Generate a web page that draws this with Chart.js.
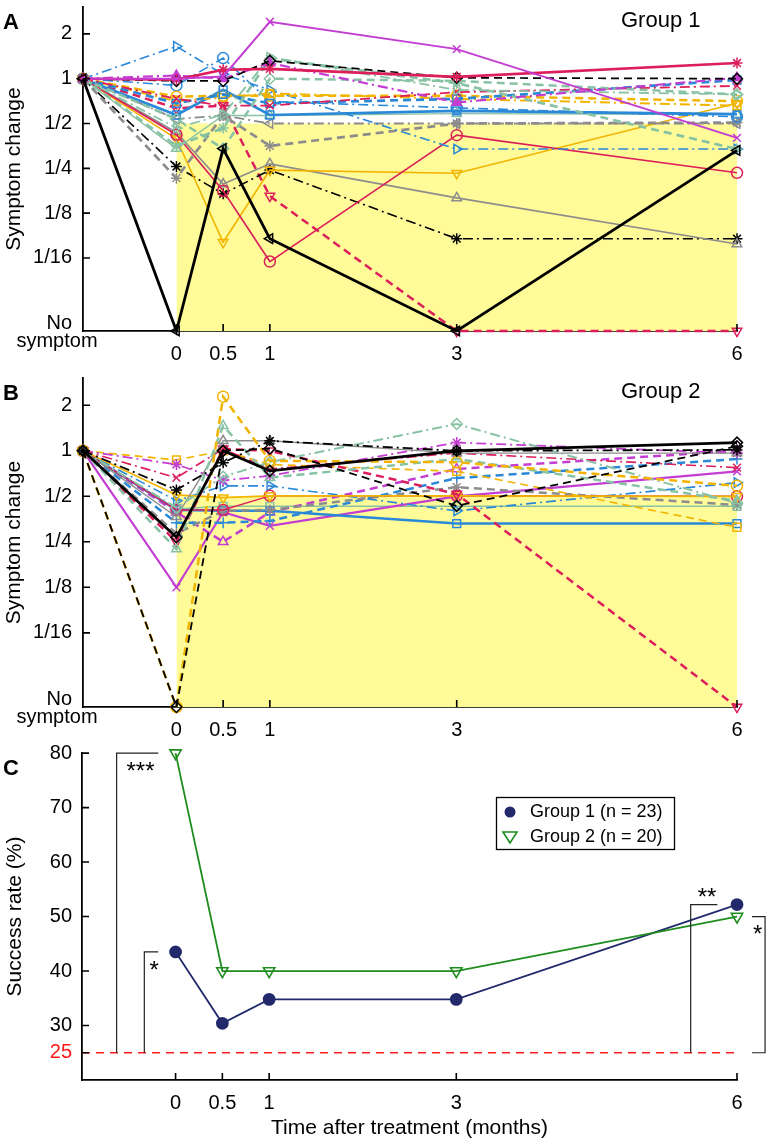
<!DOCTYPE html>
<html>
<head>
<meta charset="utf-8">
<script src="https://cdn.jsdelivr.net/npm/chart.js@4.4.1/dist/chart.umd.min.js"></script>
<style>
  html, body { margin: 0; padding: 0; background: #fff; }
  #page { position: relative; width: 770px; height: 1145px; overflow: hidden; }
  canvas { position: absolute; left: 0; }
</style>
</head>
<body>
<div id="page">
  <canvas id="panelA" width="770" height="370" style="top:0px"></canvas>
  <canvas id="panelB" width="770" height="375" style="top:370px"></canvas>
  <canvas id="panelC" width="770" height="400" style="top:745px"></canvas>
</div>
<script>
/* ===================== DATA ===================== */
// symptom change is kept as log2(ratio): 0 = unchanged, -1 = halved ...
const NO = -5.63;                              // "No symptom" (axis floor)
const visits = [-1, 0, 0.5, 1, 3, 6];          // -1 = baseline (before treatment)
const timeTicks = [0, 0.5, 1, 3, 6];
const changeTicks = [1, 0, -1, -2, -3, -4];
const changeLabels = ["2", "1", "1/2", "1/4", "1/8", "1/16"];
const successBound = -1;                       // symptom halved

// Group 1 patients
const g1p01 = [0, NO, -1.56, -3.57, NO, -1.6];
const g1p02 = [0, 0, 0.05, 1.27, 0.66, -1.32];
const g1p03 = [0, -0.02, 0.2, 0.22, 0.04, 0.35];
const g1p04 = [0, -0.05, -0.05, 0.4, 0.02, 0];
const g1p05 = [0, 0.07, 0, 0.35, -0.53, 0.02];
const g1p06 = [0, -0.9, -1.56, 0, -0.05, -0.35];
const g1p07 = [0, -1.1, -0.8, 0.48, -0.25, -0.35];
const g1p08 = [0, -1.5, -1.1, 0.45, -0.1, -1.57];
const g1p09 = [0, -0.45, -0.6, -0.6, -0.3, -0.16];
const g1p10 = [0, -0.55, -0.35, -0.55, -0.45, -0.03];
const g1p11 = [0, -0.4, -0.38, -0.38, -0.38, -0.5];
const g1p12 = [0, -0.5, -0.42, -0.33, -0.45, -0.6];
const g1p13 = [0, -0.81, -0.25, -0.81, -0.72, -0.79];
const g1p14 = [0, -0.15, 0.46, -0.51, -0.65, -0.85];
const g1p15 = [0, 0.72, 0.1, -0.25, -1.57, -1.57];
const g1p16 = [0, -0.9, -0.82, -1.0, -1.0, -1.0];
const g1p17 = [0, -2.22, -0.82, -1.5, -1.0, -0.98];
const g1p18 = [0, -1.56, -0.82, -0.82, -0.78, -0.8];
const g1p19 = [0, -1.25, -2.5, -4.08, -1.26, -2.1];
const g1p20 = [0, -1.34, -3.65, -2.04, -2.11, -0.55];
const g1p21 = [0, -1.2, -2.35, -1.9, -2.66, -3.69];
const g1p22 = [0, -1.96, -2.57, -2.04, -3.57, -3.57];
const g1p23 = [0, -0.66, -0.6, -2.62, NO, NO];

// Group 2 patients
const g2p01 = [0, -1.9, 0, -0.44, 0, 0.18];
const g2p02 = [0, -0.86, -0.26, 0.22, 0, 0.02];
const g2p03 = [0, NO, 0, 0.05, -1.21, 0.1];
const g2p04 = [0, NO, 1.19, -0.22, -0.25, -0.77];
const g2p05 = [0, -2.16, 0.55, -0.59, -0.18, -1.1];
const g2p06 = [0, -1.25, -0.57, -0.25, 0.59, -1.15];
const g2p07 = [0, -1.45, 0.22, 0.22, -0.05, -0.05];
const g2p08 = [0, -2.0, 0.04, 0, -0.95, NO];
const g2p09 = [0, -0.59, 0.04, -0.4, -0.05, -0.37];
const g2p10 = [0, -0.3, -0.65, -0.55, 0.18, -0.05];
const g2p11 = [0, -0.2, 0, -0.3, -0.45, -1.68];
const g2p12 = [0, -0.97, -1.03, -0.99, -0.99, -1.0];
const g2p13 = [0, -1.3, -1.3, -0.99, -0.99, -1.0];
const g2p14 = [0, -1.82, -1.32, -1.3, -0.8, -1.19];
const g2p15 = [0, -1.3, -1.32, -1.32, -1.6, -1.6];
const g2p16 = [0, -1.58, -1.58, -1.54, -0.6, -0.18];
const g2p17 = [0, -1.1, -0.77, -0.77, -1.32, -0.7];
const g2p18 = [0, -1.35, -2.0, -1.35, -0.4, 0];
const g2p19 = [0, -3.0, -1.35, -1.65, -1.0, -0.45];
const g2p20 = [0, -1.28, -1.22, -1.22, -1.22, -1.22];

// panel C, success rate (%)
const months = [0, 0.5, 1, 3, 6];
const rateGroup1 = [43.5, 30.4, 34.8, 34.8, 52.2];
const rateGroup2 = [80, 40, 40, 40, 50];
const chanceRate = 25;
const rateTicks = [25, 30, 40, 50, 60, 70, 80];

/* ===================== STYLE ===================== */
const FONT = "'Liberation Sans', Arial, Helvetica, sans-serif";
Chart.defaults.font.family = FONT;
Chart.defaults.color = "#000";

const K = "#000000", MG = "#c33dd2", CR = "#dc1e5a", BL = "#2a88d8",
      GD = "#f2b400", SG = "#88c2a4", GR = "#8c8c8c";
const SOLID = [], DASH = [8, 5], DADO = [10, 4, 2, 4];
const NAVY = "#222a6c", GREEN = "#1e8c1e", RED = "#ff1a1a";

// [colour, dash, width, marker, rotation, filled]
const g1Styles = [
  [K, SOLID, 2.8, "triangle", -90, false],
  [MG, SOLID, 2.0, "crossRot", 0, false],
  [CR, SOLID, 2.6, "star", 0, true],
  [K, DASH, 1.7, "rectRot", 0, false],
  [MG, DADO, 2.2, "triangle", 0, true],
  [SG, DASH, 2.5, "rectRot", 0, false],
  [SG, DADO, 1.8, "triangle", 90, false],
  [SG, DASH, 2.7, "star", 0, false],
  [CR, DADO, 1.8, "crossRot", 0, false],
  [BL, DASH, 2.7, "rect", 0, false],
  [GD, DASH, 2.5, "circle", 0, false],
  [GD, DADO, 2.0, "rect", 0, false],
  [BL, SOLID, 2.7, "rect", 0, false],
  [BL, DADO, 1.6, "circle", 0, false],
  [BL, DADO, 1.6, "triangle", 90, false],
  [GR, DADO, 1.8, "triangle", -90, false],
  [GR, DASH, 2.7, "star", 0, false],
  [SG, SOLID, 1.4, "triangle", 0, false],
  [CR, SOLID, 1.6, "circle", 0, false],
  [GD, SOLID, 1.6, "triangle", 180, false],
  [GR, SOLID, 1.6, "triangle", 0, false],
  [K, DADO, 1.6, "star", 0, false],
  [CR, DASH, 2.5, "triangle", 180, false]
];

const g2Styles = [
  [K, SOLID, 2.7, "rectRot", 0, false],
  [K, DADO, 1.8, "star", 0, false],
  [K, DASH, 1.8, "rectRot", 0, false],
  [GD, DASH, 2.5, "circle", 0, false],
  [SG, DASH, 2.5, "triangle", 0, false],
  [SG, DADO, 2.0, "rectRot", 0, false],
  [GR, SOLID, 1.4, "triangle", 0, false],
  [CR, DASH, 2.5, "triangle", 180, false],
  [CR, DADO, 1.6, "crossRot", 0, false],
  [MG, DADO, 1.8, "star", 0, false],
  [GD, DASH, 1.6, "rect", 0, false],
  [GD, SOLID, 1.8, "triangle", 180, false],
  [CR, SOLID, 1.4, "circle", 0, false],
  [GR, DASH, 2.5, "star", 0, false],
  [BL, SOLID, 2.5, "rect", 0, false],
  [BL, DASH, 2.5, "cross", 0, false],
  [BL, DADO, 1.6, "triangle", 90, false],
  [MG, DASH, 2.5, "triangle", 0, false],
  [MG, SOLID, 2.2, "crossRot", 0, false],
  [SG, SOLID, 1.4, "rect", 0, false]
];

const group1 = [g1p01, g1p02, g1p03, g1p04, g1p05, g1p06, g1p07, g1p08, g1p09, g1p10, g1p11, g1p12,
                g1p13, g1p14, g1p15, g1p16, g1p17, g1p18, g1p19, g1p20, g1p21, g1p22, g1p23];
const group2 = [g2p01, g2p02, g2p03, g2p04, g2p05, g2p06, g2p07, g2p08, g2p09, g2p10,
                g2p11, g2p12, g2p13, g2p14, g2p15, g2p16, g2p17, g2p18, g2p19, g2p20];

/* ===================== PLUGINS ===================== */
// ticks drawn inward, like the original figure
const innerTicks = {
  id: "innerTicks",
  afterDraw(chart) {
    const { ctx, scales: { x, y } } = chart;
    ctx.save();
    ctx.strokeStyle = "#000";
    ctx.lineWidth = 1.6;
    ctx.beginPath();
    x.ticks.forEach(t => {
      const px = x.getPixelForValue(t.value);
      ctx.moveTo(px, x.top);
      ctx.lineTo(px, x.top - 7);
    });
    y.ticks.forEach(t => {
      const py = y.getPixelForValue(t.value);
      ctx.moveTo(y.right, py);
      ctx.lineTo(y.right + 7, py);
    });
    ctx.stroke();
    ctx.restore();
  }
};

const symptomText = {
  id: "symptomText",
  afterDraw(chart, args, opts) {
    const { ctx, chartArea, scales: { y } } = chart;
    ctx.save();
    ctx.fillStyle = "#000";
    ctx.textAlign = "left";
    ctx.textBaseline = "alphabetic";
    ctx.font = "bold 22px " + FONT;
    ctx.fillText(opts.letter, 3, chartArea.top + 22);
    ctx.font = "22px " + FONT;
    ctx.fillText(opts.title, 621, chartArea.top + 20);
    ctx.font = "20px " + FONT;
    ctx.textBaseline = "middle";
    ctx.textAlign = "right";
    ctx.fillText("No", 72, y.bottom - 8);
    ctx.textAlign = "center";
    ctx.fillText("symptom", 57, y.bottom + 10);
    ctx.restore();
  }
};

const rateText = {
  id: "rateText",
  afterDraw(chart) {
    const { ctx, chartArea, scales: { x, y } } = chart;
    const px = v => x.getPixelForValue(v);
    const py = v => y.getPixelForValue(v);
    ctx.save();
    ctx.fillStyle = "#000";
    ctx.font = "bold 22px " + FONT;
    ctx.textAlign = "left";
    ctx.fillText("C", 3, chartArea.top + 22);

    // significance brackets against chance level
    ctx.strokeStyle = "#222";
    ctx.lineWidth = 1.2;
    const poly = pts => {
      ctx.beginPath();
      pts.forEach(([a, b], i) => i ? ctx.lineTo(px(a), py(b)) : ctx.moveTo(px(a), py(b)));
      ctx.stroke();
    };
    poly([[-0.63, chanceRate], [-0.63, rateGroup2[0]], [-0.185, rateGroup2[0]]]);
    poly([[-0.334, chanceRate], [-0.334, rateGroup1[0]], [-0.185, rateGroup1[0]]]);
    poly([[5.505, chanceRate], [5.505, rateGroup1[4]], [5.79, rateGroup1[4]]]);
    poly([[6.16, rateGroup2[4]], [6.3, rateGroup2[4]], [6.3, chanceRate], [6.16, chanceRate]]);

    ctx.font = "24px " + FONT;
    ctx.textAlign = "center";
    ctx.textBaseline = "middle";
    const stars = (s, a, b) => ctx.fillText(s, px(a), py(b) + 5);
    stars("***", -0.375, 77.4);
    stars("*", -0.23, 40.9);
    stars("**", 5.68, 54.3);
    stars("*", 6.22, 47.4);

    // legend box
    ctx.lineWidth = 1.3;
    ctx.strokeStyle = "#000";
    ctx.strokeRect(496.5, 52.5, 178, 52);
    ctx.fillStyle = NAVY;
    ctx.beginPath();
    ctx.arc(510, 67, 5.5, 0, Math.PI * 2);
    ctx.fill();
    ctx.strokeStyle = GREEN;
    ctx.lineWidth = 1.6;
    ctx.beginPath();
    ctx.moveTo(503, 87);
    ctx.lineTo(517, 87);
    ctx.lineTo(510, 98);
    ctx.closePath();
    ctx.stroke();
    ctx.fillStyle = "#000";
    ctx.font = "18px " + FONT;
    ctx.textAlign = "left";
    ctx.fillText("Group 1 (n = 23)", 530, 67);
    ctx.fillText("Group 2 (n = 20)", 530, 92);
    ctx.restore();
  }
};

/* ===================== BUILDERS ===================== */
function patientSets(rows, styles) {
  return rows.map((vals, i) => {
    const [color, dash, width, marker, rot, filled] = styles[i];
    return {
      data: vals.map((v, j) => ({ x: visits[j], y: v })),
      borderColor: color,
      borderDash: dash,
      borderWidth: width,
      pointStyle: marker,
      pointRotation: rot,
      pointRadius: 5.5,
      pointBorderColor: color,
      pointBorderWidth: 1.5,
      pointBackgroundColor: filled ? color : "rgba(0,0,0,0)",
      fill: false,
      tension: 0,
      clip: false
    };
  });
}

function successZone() {
  return {
    data: [{ x: 0, y: successBound }, { x: 6, y: successBound }],
    fill: "start",
    backgroundColor: "#fffb98",
    borderWidth: 0,
    pointRadius: 0,
    order: 100
  };
}

function axisX(height, extra) {
  return Object.assign({
    type: "linear",
    min: -1,
    max: 6,
    grid: { display: false, drawTicks: false },
    border: { display: true, color: "#000", width: 1.8 },
    afterBuildTicks: s => { s.ticks = timeTicks.map(v => ({ value: v })); },
    ticks: { padding: 11, autoSkip: false, maxRotation: 0, font: { size: 20 }, callback: v => String(v) },
    afterFit: s => { s.height = height; s.paddingLeft = 0; s.paddingRight = 0; }
  }, extra || {});
}

function symptomChart(id, rows, styles, letter, title, topPad, xHeight) {
  return new Chart(document.getElementById(id), {
    type: "line",
    data: { datasets: patientSets(rows, styles).concat([successZone()]) },
    options: {
      responsive: false,
      animation: false,
      devicePixelRatio: 1,
      layout: { padding: { top: topPad, right: 33, bottom: 0, left: 0 } },
      plugins: {
        legend: { display: false },
        tooltip: { enabled: false },
        symptomText: { letter, title }
      },
      scales: {
        x: axisX(xHeight),
        y: {
          type: "linear",
          min: NO,
          max: 1.6,
          grid: { display: false, drawTicks: false },
          border: { display: true, color: "#000", width: 1.8 },
          afterBuildTicks: s => { s.ticks = changeTicks.map(v => ({ value: v })); },
          ticks: { padding: 11, font: { size: 20 }, callback: v => changeLabels[changeTicks.indexOf(v)] },
          title: { display: true, text: "Symptom change", font: { size: 21 }, padding: { top: 2, bottom: 0 } },
          afterFit: s => { s.width = 83; s.paddingTop = 0; s.paddingBottom = 0; }
        }
      }
    },
    plugins: [symptomText, innerTicks]
  });
}

/* ===================== CHARTS ===================== */
symptomChart("panelA", group1, g1Styles, "A", "Group 1", 3, 39);
symptomChart("panelB", group2, g2Styles, "B", "Group 2", 8, 38);

new Chart(document.getElementById("panelC"), {
  type: "line",
  data: {
    datasets: [
      {
        label: "Group 2 (n = 20)",
        data: months.map((t, i) => ({ x: t, y: rateGroup2[i] })),
        borderColor: GREEN,
        borderWidth: 1.8,
        pointStyle: "triangle",
        pointRotation: 180,
        pointRadius: 6.5,
        pointBorderWidth: 1.6,
        pointBorderColor: GREEN,
        pointBackgroundColor: "rgba(0,0,0,0)",
        tension: 0,
        clip: false,
        order: 0
      },
      {
        label: "Group 1 (n = 23)",
        data: months.map((t, i) => ({ x: t, y: rateGroup1[i] })),
        borderColor: NAVY,
        borderWidth: 1.8,
        pointStyle: "circle",
        pointRadius: 5.5,
        pointBorderColor: NAVY,
        pointBackgroundColor: NAVY,
        tension: 0,
        clip: false,
        order: 1
      },
      {
        label: "chance",
        data: [{ x: -1, y: chanceRate }, { x: 6, y: chanceRate }],
        borderColor: RED,
        borderDash: [8, 6],
        borderWidth: 1.6,
        pointRadius: 0,
        order: 2
      }
    ]
  },
  options: {
    responsive: false,
    animation: false,
    devicePixelRatio: 1,
    layout: { padding: { top: 8, right: 33, bottom: 0, left: 0 } },
    plugins: { legend: { display: false }, tooltip: { enabled: false } },
    scales: {
      x: axisX(65, {
        title: { display: true, text: "Time after treatment (months)", font: { size: 21 }, padding: { top: 0, bottom: 4 } }
      }),
      y: {
        type: "linear",
        min: 20,
        max: 80,
        grid: { display: false, drawTicks: false },
        border: { display: true, color: "#000", width: 1.8 },
        afterBuildTicks: s => { s.ticks = rateTicks.map(v => ({ value: v })); },
        ticks: {
          padding: 10,
          font: { size: 20 },
          color: c => (c.tick && c.tick.value === chanceRate ? RED : "#000")
        },
        title: { display: true, text: "Success rate (%)", font: { size: 21 }, padding: { top: 3, bottom: 0 } },
        afterFit: s => { s.width = 82; s.paddingTop = 0; s.paddingBottom = 0; }
      }
    }
  },
  plugins: [rateText, innerTicks]
});
</script>
</body>
</html>
